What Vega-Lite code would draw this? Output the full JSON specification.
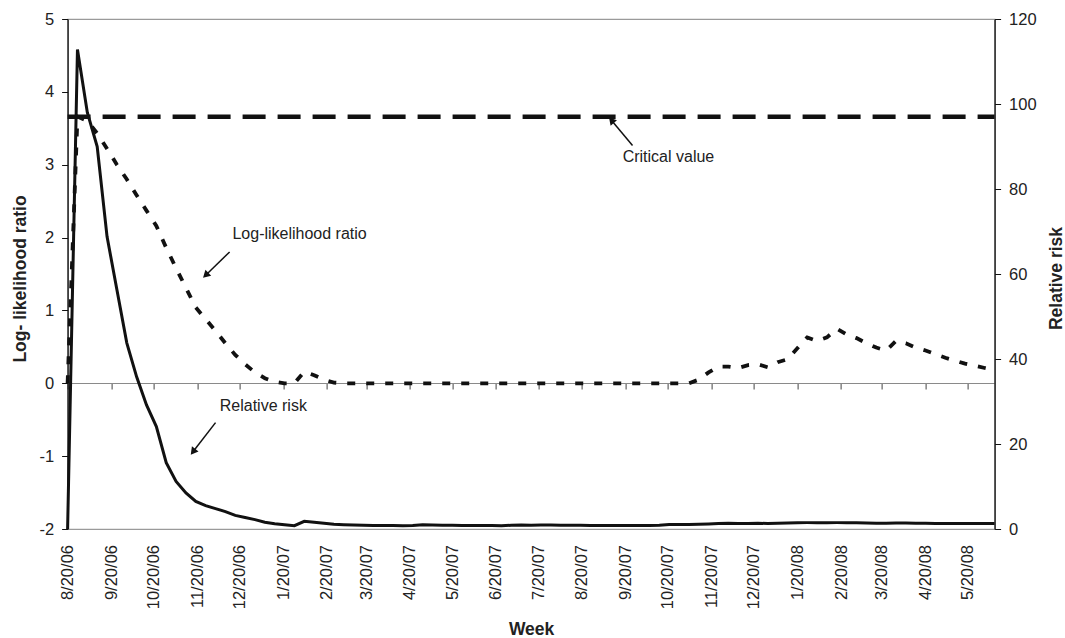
{
  "$schema": "https://vega.github.io/schema/vega-lite/v6.json",
  "width": 927,
  "height": 510,
  "autosize": {"type": "none"},
  "padding": {"left": 67.6, "top": 19, "right": 70.4, "bottom": 109},
  "background": "white",
  "config": {
    "font": "Liberation Sans",
    "view": {"stroke": "#9a9a9a", "strokeWidth": 1.2},
    "axis": {
      "labelFont": "Liberation Sans",
      "titleFont": "Liberation Sans",
      "labelColor": "#222",
      "titleColor": "#222",
      "grid": false,
      "labelFontSize": 16.5,
      "titleFontSize": 17.5,
      "titleFontWeight": "bold"
    }
  },
  "datasets": {
    "weeks": [
      {"date": "2006-08-20", "llr": 0, "rr": 0},
      {"date": "2006-08-27", "llr": 3.66, "rr": 112.8},
      {"date": "2006-09-03", "llr": 3.6, "rr": 98},
      {"date": "2006-09-10", "llr": 3.43, "rr": 90},
      {"date": "2006-09-17", "llr": 3.22, "rr": 68.8},
      {"date": "2006-09-24", "llr": 3.0, "rr": 56.3},
      {"date": "2006-10-01", "llr": 2.8, "rr": 43.8},
      {"date": "2006-10-08", "llr": 2.58, "rr": 35.8},
      {"date": "2006-10-15", "llr": 2.37, "rr": 29.2},
      {"date": "2006-10-22", "llr": 2.16, "rr": 24.1},
      {"date": "2006-10-29", "llr": 1.86, "rr": 15.6},
      {"date": "2006-11-05", "llr": 1.58, "rr": 11.2},
      {"date": "2006-11-12", "llr": 1.31, "rr": 8.5},
      {"date": "2006-11-19", "llr": 1.04, "rr": 6.5},
      {"date": "2006-11-26", "llr": 0.88, "rr": 5.5},
      {"date": "2006-12-03", "llr": 0.72, "rr": 4.8},
      {"date": "2006-12-10", "llr": 0.55, "rr": 4.1},
      {"date": "2006-12-17", "llr": 0.39, "rr": 3.2},
      {"date": "2006-12-24", "llr": 0.26, "rr": 2.7},
      {"date": "2006-12-31", "llr": 0.15, "rr": 2.2},
      {"date": "2007-01-07", "llr": 0.07, "rr": 1.6},
      {"date": "2007-01-14", "llr": 0.02, "rr": 1.25},
      {"date": "2007-01-21", "llr": 0, "rr": 1.0},
      {"date": "2007-01-28", "llr": 0, "rr": 0.78},
      {"date": "2007-02-04", "llr": 0.16, "rr": 1.8},
      {"date": "2007-02-11", "llr": 0.11, "rr": 1.6},
      {"date": "2007-02-18", "llr": 0.05, "rr": 1.35},
      {"date": "2007-02-25", "llr": 0.01, "rr": 1.1},
      {"date": "2007-03-04", "llr": 0, "rr": 1.0},
      {"date": "2007-03-11", "llr": 0, "rr": 0.95},
      {"date": "2007-03-18", "llr": 0, "rr": 0.9},
      {"date": "2007-03-25", "llr": 0, "rr": 0.85},
      {"date": "2007-04-01", "llr": 0, "rr": 0.8},
      {"date": "2007-04-08", "llr": 0, "rr": 0.8},
      {"date": "2007-04-15", "llr": 0, "rr": 0.75},
      {"date": "2007-04-22", "llr": 0, "rr": 0.8},
      {"date": "2007-04-29", "llr": 0, "rr": 1.0},
      {"date": "2007-05-06", "llr": 0, "rr": 0.95},
      {"date": "2007-05-13", "llr": 0, "rr": 0.9},
      {"date": "2007-05-20", "llr": 0, "rr": 0.9},
      {"date": "2007-05-27", "llr": 0, "rr": 0.85},
      {"date": "2007-06-03", "llr": 0, "rr": 0.85},
      {"date": "2007-06-10", "llr": 0, "rr": 0.8},
      {"date": "2007-06-17", "llr": 0, "rr": 0.8},
      {"date": "2007-06-24", "llr": 0, "rr": 0.75},
      {"date": "2007-07-01", "llr": 0, "rr": 0.9},
      {"date": "2007-07-08", "llr": 0, "rr": 0.95},
      {"date": "2007-07-15", "llr": 0, "rr": 0.9},
      {"date": "2007-07-22", "llr": 0, "rr": 0.95},
      {"date": "2007-07-29", "llr": 0, "rr": 0.95},
      {"date": "2007-08-05", "llr": 0, "rr": 0.9},
      {"date": "2007-08-12", "llr": 0, "rr": 0.9},
      {"date": "2007-08-19", "llr": 0, "rr": 0.9},
      {"date": "2007-08-26", "llr": 0, "rr": 0.85},
      {"date": "2007-09-02", "llr": 0, "rr": 0.85},
      {"date": "2007-09-09", "llr": 0, "rr": 0.8},
      {"date": "2007-09-16", "llr": 0, "rr": 0.8},
      {"date": "2007-09-23", "llr": 0, "rr": 0.8},
      {"date": "2007-09-30", "llr": 0, "rr": 0.8},
      {"date": "2007-10-07", "llr": 0, "rr": 0.85},
      {"date": "2007-10-14", "llr": 0, "rr": 0.9},
      {"date": "2007-10-21", "llr": 0, "rr": 1.05},
      {"date": "2007-10-28", "llr": 0, "rr": 1.05},
      {"date": "2007-11-04", "llr": 0, "rr": 1.05},
      {"date": "2007-11-11", "llr": 0.05, "rr": 1.1},
      {"date": "2007-11-18", "llr": 0.15, "rr": 1.2},
      {"date": "2007-11-25", "llr": 0.23, "rr": 1.3},
      {"date": "2007-12-02", "llr": 0.23, "rr": 1.35},
      {"date": "2007-12-09", "llr": 0.21, "rr": 1.3},
      {"date": "2007-12-16", "llr": 0.25, "rr": 1.3},
      {"date": "2007-12-23", "llr": 0.26, "rr": 1.35},
      {"date": "2007-12-30", "llr": 0.22, "rr": 1.3},
      {"date": "2008-01-06", "llr": 0.29, "rr": 1.35},
      {"date": "2008-01-13", "llr": 0.33, "rr": 1.4},
      {"date": "2008-01-20", "llr": 0.48, "rr": 1.45},
      {"date": "2008-01-27", "llr": 0.63, "rr": 1.5},
      {"date": "2008-02-03", "llr": 0.58, "rr": 1.5},
      {"date": "2008-02-10", "llr": 0.63, "rr": 1.45},
      {"date": "2008-02-17", "llr": 0.75, "rr": 1.5},
      {"date": "2008-02-24", "llr": 0.67, "rr": 1.5},
      {"date": "2008-03-02", "llr": 0.62, "rr": 1.45},
      {"date": "2008-03-09", "llr": 0.55, "rr": 1.4},
      {"date": "2008-03-16", "llr": 0.49, "rr": 1.35},
      {"date": "2008-03-23", "llr": 0.45, "rr": 1.35},
      {"date": "2008-03-30", "llr": 0.58, "rr": 1.4},
      {"date": "2008-04-06", "llr": 0.55, "rr": 1.4},
      {"date": "2008-04-13", "llr": 0.49, "rr": 1.35},
      {"date": "2008-04-20", "llr": 0.45, "rr": 1.35},
      {"date": "2008-04-27", "llr": 0.4, "rr": 1.3},
      {"date": "2008-05-04", "llr": 0.35, "rr": 1.3},
      {"date": "2008-05-11", "llr": 0.31, "rr": 1.3},
      {"date": "2008-05-18", "llr": 0.27, "rr": 1.3},
      {"date": "2008-05-25", "llr": 0.24, "rr": 1.3},
      {"date": "2008-06-01", "llr": 0.21, "rr": 1.3},
      {"date": "2008-06-08", "llr": 0.18, "rr": 1.3}
    ],
    "critical": [{"start": "2006-08-20", "end": "2008-06-08", "value": 3.66}],
    "notes": [
      {"date": "2007-09-18", "llr": 3.1, "label": "Critical value"},
      {"date": "2006-12-15", "llr": 2.045, "label": "Log-likelihood ratio"},
      {"date": "2006-12-06", "llr": -0.311, "label": "Relative risk"}
    ],
    "arrows": [
      {"arrow": "critical", "tail": "2007-09-25", "tailLlr": 3.264, "head": "2007-09-10", "headLlr": 3.611},
      {"arrow": "llr", "tail": "2006-12-13", "tailLlr": 1.803, "head": "2006-11-26", "headLlr": 1.484},
      {"arrow": "rr", "tail": "2006-12-03", "tailLlr": -0.54, "head": "2006-11-17", "headLlr": -0.94}
    ]
  },
  "layer": [
    {
      "layer": [
        {
          "data": {"name": "weeks"},
          "mark": {"type": "line", "color": "#111", "strokeWidth": 3.8, "strokeDash": [8, 11], "strokeCap": "butt"},
          "encoding": {
            "x": {
              "field": "date",
              "type": "temporal",
              "scale": {"type": "utc", "domain": [{"year": 2006, "month": 8, "date": 20, "utc": true}, {"year": 2008, "month": 6, "date": 8, "utc": true}]},
              "axis": {
                "orient": "bottom",
                "values": [
                  {"year": 2006, "month": 8, "date": 20, "utc": true},
                  {"year": 2006, "month": 9, "date": 20, "utc": true},
                  {"year": 2006, "month": 10, "date": 20, "utc": true},
                  {"year": 2006, "month": 11, "date": 20, "utc": true},
                  {"year": 2006, "month": 12, "date": 20, "utc": true},
                  {"year": 2007, "month": 1, "date": 20, "utc": true},
                  {"year": 2007, "month": 2, "date": 20, "utc": true},
                  {"year": 2007, "month": 3, "date": 20, "utc": true},
                  {"year": 2007, "month": 4, "date": 20, "utc": true},
                  {"year": 2007, "month": 5, "date": 20, "utc": true},
                  {"year": 2007, "month": 6, "date": 20, "utc": true},
                  {"year": 2007, "month": 7, "date": 20, "utc": true},
                  {"year": 2007, "month": 8, "date": 20, "utc": true},
                  {"year": 2007, "month": 9, "date": 20, "utc": true},
                  {"year": 2007, "month": 10, "date": 20, "utc": true},
                  {"year": 2007, "month": 11, "date": 20, "utc": true},
                  {"year": 2007, "month": 12, "date": 20, "utc": true},
                  {"year": 2008, "month": 1, "date": 20, "utc": true},
                  {"year": 2008, "month": 2, "date": 20, "utc": true},
                  {"year": 2008, "month": 3, "date": 20, "utc": true},
                  {"year": 2008, "month": 4, "date": 20, "utc": true},
                  {"year": 2008, "month": 5, "date": 20, "utc": true}
                ],
                "format": "%-m/%d/%y",
                "labelAngle": 270,
                "ticks": false,
                "tickSize": 0,
                "domain": false,
                "labelPadding": 15.5,
                "labelOverlap": false,
                "labelFlush": false,
                "labelBound": false,
                "title": "Week",
                "titleY": 105.7,
                "titleBaseline": "alphabetic"
              }
            },
            "y": {
              "field": "llr",
              "type": "quantitative",
              "scale": {"domain": [-2, 5], "nice": false},
              "axis": {
                "orient": "left",
                "values": [-2, -1, 0, 1, 2, 3, 4, 5],
                "labelExpr": "'' + datum.value",
                "title": "Log- likelihood ratio",
                "tickSize": 6,
                "tickColor": "#111",
                "domainColor": "#111",
                "domainWidth": 1.3,
                "labelPadding": 8,
                "titleAngle": 270,
                "titleX": -42,
                "titleY": 259.5,
                "titleAlign": "center",
                "titleBaseline": "alphabetic"
              }
            }
          }
        },
        {
          "data": {"name": "critical"},
          "mark": {"type": "rule", "color": "#111", "strokeWidth": 4.5, "strokeDash": [23, 12]},
          "encoding": {
            "x": {"field": "start", "type": "temporal", "scale": {"type": "utc"}},
            "x2": {"field": "end"},
            "y": {"field": "value", "type": "quantitative"}
          }
        },
        {
          "data": {"name": "notes"},
          "mark": {"type": "text", "align": "left", "baseline": "middle", "fontSize": 16, "color": "#222", "font": "Liberation Sans"},
          "encoding": {
            "x": {"field": "date", "type": "temporal", "scale": {"type": "utc"}},
            "y": {"field": "llr", "type": "quantitative"},
            "text": {"field": "label"}
          }
        },
        {
          "data": {"name": "arrows"},
          "mark": {"type": "rule", "color": "#111", "strokeWidth": 1.5},
          "encoding": {
            "x": {"field": "tail", "type": "temporal", "scale": {"type": "utc"}},
            "x2": {"field": "head"},
            "y": {"field": "tailLlr", "type": "quantitative"},
            "y2": {"field": "headLlr"}
          }
        },
        {
          "data": {"name": "arrows"},
          "transform": [{"filter": "datum.arrow == 'critical'"}],
          "mark": {"type": "point", "shape": "triangle-up", "filled": true, "size": 70, "angle": 319, "color": "#111", "opacity": 1},
          "encoding": {
            "x": {"field": "head", "type": "temporal", "scale": {"type": "utc"}},
            "y": {"field": "headLlr", "type": "quantitative"}
          }
        },
        {
          "data": {"name": "arrows"},
          "transform": [{"filter": "datum.arrow == 'llr'"}],
          "mark": {"type": "point", "shape": "triangle-up", "filled": true, "size": 70, "angle": 227, "color": "#111", "opacity": 1},
          "encoding": {
            "x": {"field": "head", "type": "temporal", "scale": {"type": "utc"}},
            "y": {"field": "headLlr", "type": "quantitative"}
          }
        },
        {
          "data": {"name": "arrows"},
          "transform": [{"filter": "datum.arrow == 'rr'"}],
          "mark": {"type": "point", "shape": "triangle-up", "filled": true, "size": 70, "angle": 218, "color": "#111", "opacity": 1},
          "encoding": {
            "x": {"field": "head", "type": "temporal", "scale": {"type": "utc"}},
            "y": {"field": "headLlr", "type": "quantitative"}
          }
        }
      ]
    },
    {
      "data": {"name": "weeks"},
      "mark": {"type": "line", "color": "#111", "strokeWidth": 3},
      "encoding": {
        "x": {
          "field": "date",
          "type": "temporal",
          "scale": {"type": "utc"},
          "axis": {
            "orient": "bottom",
            "offset": -146,
            "values": [
              {"year": 2006, "month": 8, "date": 20, "utc": true},
              {"year": 2006, "month": 9, "date": 20, "utc": true},
              {"year": 2006, "month": 10, "date": 20, "utc": true},
              {"year": 2006, "month": 11, "date": 20, "utc": true},
              {"year": 2006, "month": 12, "date": 20, "utc": true},
              {"year": 2007, "month": 1, "date": 20, "utc": true},
              {"year": 2007, "month": 2, "date": 20, "utc": true},
              {"year": 2007, "month": 3, "date": 20, "utc": true},
              {"year": 2007, "month": 4, "date": 20, "utc": true},
              {"year": 2007, "month": 5, "date": 20, "utc": true},
              {"year": 2007, "month": 6, "date": 20, "utc": true},
              {"year": 2007, "month": 7, "date": 20, "utc": true},
              {"year": 2007, "month": 8, "date": 20, "utc": true},
              {"year": 2007, "month": 9, "date": 20, "utc": true},
              {"year": 2007, "month": 10, "date": 20, "utc": true},
              {"year": 2007, "month": 11, "date": 20, "utc": true},
              {"year": 2007, "month": 12, "date": 20, "utc": true},
              {"year": 2008, "month": 1, "date": 20, "utc": true},
              {"year": 2008, "month": 2, "date": 20, "utc": true},
              {"year": 2008, "month": 3, "date": 20, "utc": true},
              {"year": 2008, "month": 4, "date": 20, "utc": true},
              {"year": 2008, "month": 5, "date": 20, "utc": true}
            ],
            "labels": false,
            "title": null,
            "tickSize": 6,
            "tickColor": "#444",
            "domainColor": "#8a8a8a",
            "domainWidth": 1.2
          }
        },
        "y": {
          "field": "rr",
          "type": "quantitative",
          "scale": {"domain": [0, 120], "nice": false},
          "axis": {
            "orient": "right",
            "values": [0, 20, 40, 60, 80, 100, 120],
            "title": "Relative risk",
            "tickSize": 6,
            "tickColor": "#111",
            "domainColor": "#111",
            "domainWidth": 1.3,
            "labelPadding": 8,
            "titleAngle": 270,
            "titleX": 66.7,
            "titleY": 259,
            "titleAlign": "center",
            "titleBaseline": "alphabetic"
          }
        }
      }
    }
  ],
  "resolve": {"scale": {"y": "independent"}, "axis": {"x": "independent"}}
}
